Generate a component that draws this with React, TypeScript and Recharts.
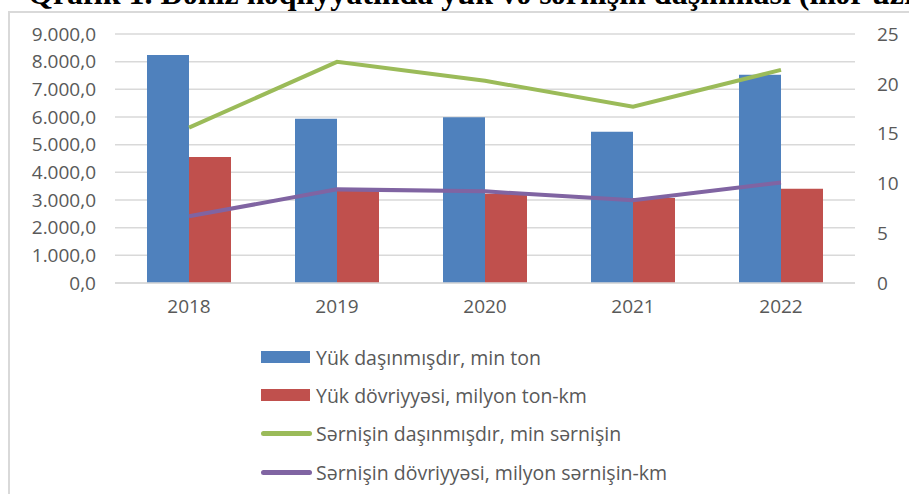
import React from 'react';
import { ComposedChart, Bar, Line, XAxis, YAxis, CartesianGrid } from 'recharts';

const years = ['2018', '2019', '2020', '2021', '2022'];
const cargoCarried = [8240, 5940, 5990, 5470, 7530];
const cargoTurnover = [4550, 3380, 3230, 3070, 3410];
const passengersCarried = [15.6, 22.2, 20.3, 17.7, 21.4];
const passengerTurnover = [6.7, 9.4, 9.2, 8.3, 10.1];
const leftTicks = [0, 1000, 2000, 3000, 4000, 5000, 6000, 7000, 8000, 9000];
const rightTicks = [0, 5, 10, 15, 20, 25];

const series = [
  { key: 'cargo', name: 'Yük daşınmışdır, min ton', color: '#4F81BD', kind: 'bar' },
  { key: 'cargoTurn', name: 'Yük dövriyyəsi, milyon ton-km', color: '#C0504D', kind: 'bar' },
  { key: 'pass', name: 'Sərnişin daşınmışdır, min sərnişin', color: '#9BBB59', kind: 'line' },
  { key: 'passTurn', name: 'Sərnişin dövriyyəsi, milyon sərnişin-km', color: '#8064A2', kind: 'line' },
];

const data = years.map((year, i) => ({
  year,
  cargo: cargoCarried[i],
  cargoTurn: cargoTurnover[i],
  pass: passengersCarried[i],
  passTurn: passengerTurnover[i],
}));

// 9000 -> "9.000,0"
const fmtLeft = (v: number) => {
  const whole = Math.round(v).toString().replace(/\B(?=(\d{3})+(?!\d))/g, '.');
  return whole + ',0';
};

const FONT = '"Open Sans", "Noto Sans", sans-serif';
const tickStyle = { fontSize: 19, fill: '#595959', fontFamily: FONT };

export default function App() {
  return (
    <div style={{ position: 'fixed', left: 0, top: 0, width: 909, height: 494, overflow: 'hidden', background: '#fff' }}>
      <div
        style={{
          position: 'absolute', left: 28, top: -25, whiteSpace: 'nowrap',
          fontFamily: '"Liberation Serif", serif', fontWeight: 'bold', fontSize: 32, lineHeight: '36px', color: '#000',
        }}
      >
        Qrafik 1. Dəniz nəqliyyatında yük və sərnişin daşınması (illər üzrə)
      </div>
      <div style={{ position: 'absolute', left: 8, top: 11, width: 1000, height: 600, border: '2px solid #d9d9d9' }} />
      <div style={{ position: 'absolute', left: 0, top: 0 }}>
        <ComposedChart width={909} height={494} data={data} barGap={0} margin={{ top: 34, right: 0, bottom: 181, left: 0 }}>
          <CartesianGrid yAxisId="left" vertical={false} stroke="#d9d9d9" strokeWidth={1.5} />
          <XAxis
            dataKey="year"
            axisLine={{ stroke: '#d9d9d9', strokeWidth: 1.5 }}
            tickLine={false}
            tick={tickStyle}
            tickMargin={11}
            height={30}
          />
          <YAxis
            yAxisId="left"
            domain={[0, 9000]}
            ticks={leftTicks}
            interval={0}
            tickFormatter={fmtLeft}
            axisLine={false}
            tickLine={false}
            tick={tickStyle}
            tickMargin={13}
            width={115}
          />
          <YAxis
            yAxisId="right"
            orientation="right"
            domain={[0, 25]}
            ticks={rightTicks}
            interval={0}
            axisLine={false}
            tickLine={false}
            tick={tickStyle}
            tickMargin={16}
            width={54}
          />
          {series.filter((s) => s.kind === 'bar').map((s) => (
            <Bar key={s.key} yAxisId="left" dataKey={s.key} name={s.name} fill={s.color} barSize={42} isAnimationActive={false} />
          ))}
          {series.filter((s) => s.kind === 'line').map((s) => (
            <Line
              key={s.key}
              yAxisId="right"
              type="linear"
              dataKey={s.key}
              name={s.name}
              stroke={s.color}
              strokeWidth={4}
              dot={false}
              activeDot={false}
              isAnimationActive={false}
            />
          ))}
        </ComposedChart>
      </div>
      <div style={{ position: 'absolute', left: 261, top: 338 }}>
        {series.map((s) => (
          <div key={s.key} style={{ display: 'flex', alignItems: 'center', height: 38.3 }}>
            {s.kind === 'bar' ? (
              <div style={{ width: 49, height: 12, background: s.color, marginRight: 6 }} />
            ) : (
              <div style={{ width: 51, height: 5, borderRadius: 3, background: s.color, marginRight: 4 }} />
            )}
            <span style={{ fontFamily: FONT, fontSize: 19.5, color: '#595959', whiteSpace: 'nowrap' }}>{s.name}</span>
          </div>
        ))}
      </div>
    </div>
  );
}
